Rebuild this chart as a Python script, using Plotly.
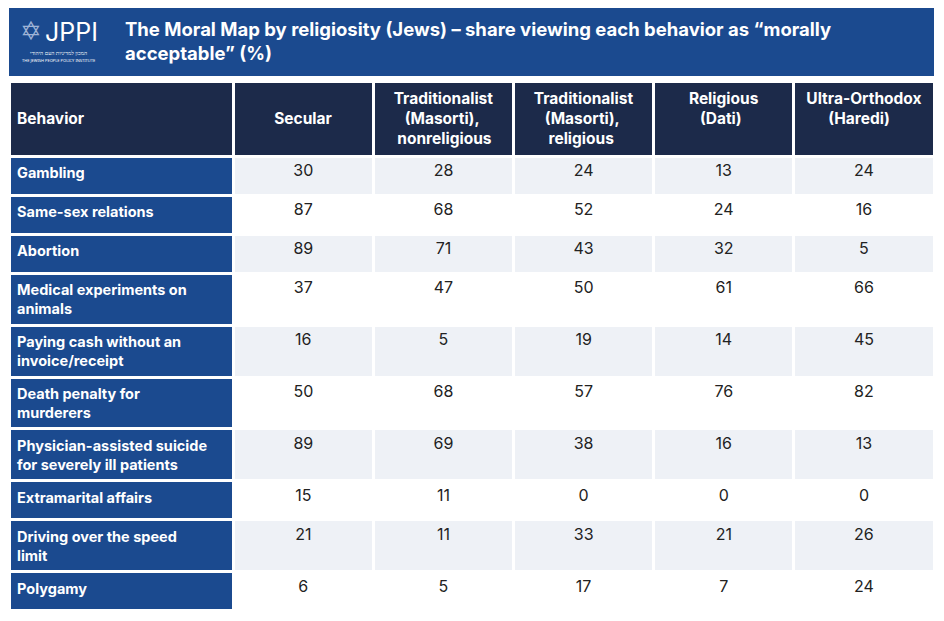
import plotly.graph_objects as go

NB = "\u00a0"

# table content (leading no-break spaces centre the shorter lines, since
# plotly keeps multi-line cell text left-aligned inside its block)
columns = [NB + "<br>Behavior", NB + "<br>Secular",
           "Traditionalist<br>" + NB * 3 + "(Masorti),<br>" + NB + "nonreligious",
           "Traditionalist<br>" + NB * 3 + "(Masorti),<br>" + NB * 4 + "religious",
           "Religious<br>" + NB * 3 + "(Dati)",
           "Ultra-Orthodox<br>" + NB * 6 + "(Haredi)"]
behaviors = ["Gambling", "Same-sex relations", "Abortion",
             "Medical experiments on<br>animals", "Paying cash without an<br>invoice/receipt",
             "Death penalty for<br>murderers", "Physician-assisted suicide<br>for severely ill patients",
             "Extramarital affairs", "Driving over the speed<br>limit", "Polygamy"]
secular = [30, 87, 89, 37, 16, 50, 89, 15, 21, 6]
masorti_nonrel = [28, 68, 71, 47, 5, 68, 69, 11, 11, 5]
masorti_rel = [24, 52, 43, 50, 19, 57, 38, 0, 33, 17]
dati = [13, 24, 32, 61, 14, 76, 16, 0, 21, 7]
haredi = [24, 16, 5, 66, 45, 82, 13, 0, 26, 24]

title_lines = ["The Moral Map by religiosity (Jews) – share viewing each behavior as “morally",
               "acceptable” (%)"]

navy = "#1c2a4a"
blue = "#1b4a8f"
light = "#eef1f6"
FONT = "Inter"

# the page body has an 8px margin, so work in window pixels and shift
OFF = 8
W, H = 944 - OFF, 621 - OFF


def px(x):
    return (x - OFF) / W


def py(y):
    return 1 - (y - OFF) / H


def bold(s):
    return "<br>".join(f"<b>{p}</b>" for p in s.split("<br>"))


n = len(behaviors)
row_fill = [light if i % 2 == 0 else "white" for i in range(n)]

fig = go.Figure(go.Table(
    domain=dict(x=[px(9), px(934)], y=[py(614), py(81)]),
    columnwidth=[224, 140, 140, 140, 140, 140],
    header=dict(
        values=[bold(c) for c in columns],
        fill_color=navy,
        line=dict(color="white", width=3),
        align=["left"] + ["center"] * 5,
        font=dict(family=FONT, size=15.5, color="white"),
        height=71,
    ),
    cells=dict(
        values=[[bold(b) for b in behaviors], secular, masorti_nonrel,
                masorti_rel, dati, haredi],
        fill_color=[[blue] * n] + [row_fill] * 5,
        line=dict(color="white", width=3),
        align=["left"] + ["center"] * 5,
        font=dict(family=FONT, size=[14.5, 16],
                  color=["white", "#222222"]),
        height=39,
    ),
))

# title banner
fig.add_shape(type="rect", xref="paper", yref="paper",
              x0=px(9), x1=px(934), y0=py(76), y1=py(5),
              fillcolor=blue, line_width=0, layer="below")
fig.add_annotation(x=px(123), y=py(41), xref="paper", yref="paper",
                   text="<br>".join(f"<b>{t}</b>" for t in title_lines),
                   showarrow=False, xanchor="left", yanchor="middle", align="left",
                   font=dict(family=FONT, size=18.5, color="white"))
# logo
fig.add_annotation(x=px(31), y=py(31), xref="paper", yref="paper",
                   text="✡", showarrow=False, xanchor="center", yanchor="middle",
                   font=dict(family="DejaVu Sans", size=26, color="#9fb3d6"))
fig.add_annotation(x=px(43), y=py(32), xref="paper", yref="paper",
                   text="JPPI", showarrow=False, xanchor="left", yanchor="middle",
                   font=dict(family=FONT, size=25, color="white"))
fig.add_annotation(x=px(58), y=py(52.5), xref="paper", yref="paper",
                   text="המכון למדיניות העם היהודי", showarrow=False,
                   xanchor="center", yanchor="middle",
                   font=dict(family="Noto Sans", size=5.5, color="white"))
fig.add_annotation(x=px(58), y=py(60), xref="paper", yref="paper",
                   text="THE JEWISH PEOPLE POLICY INSTITUTE", showarrow=False,
                   xanchor="center", yanchor="middle",
                   font=dict(family="Noto Sans", size=4, color="white"))

fig.update_layout(
    width=W, height=H,
    margin=dict(l=0, r=0, t=0, b=0),
    paper_bgcolor="white",
)

fig.write_html("out.html")
